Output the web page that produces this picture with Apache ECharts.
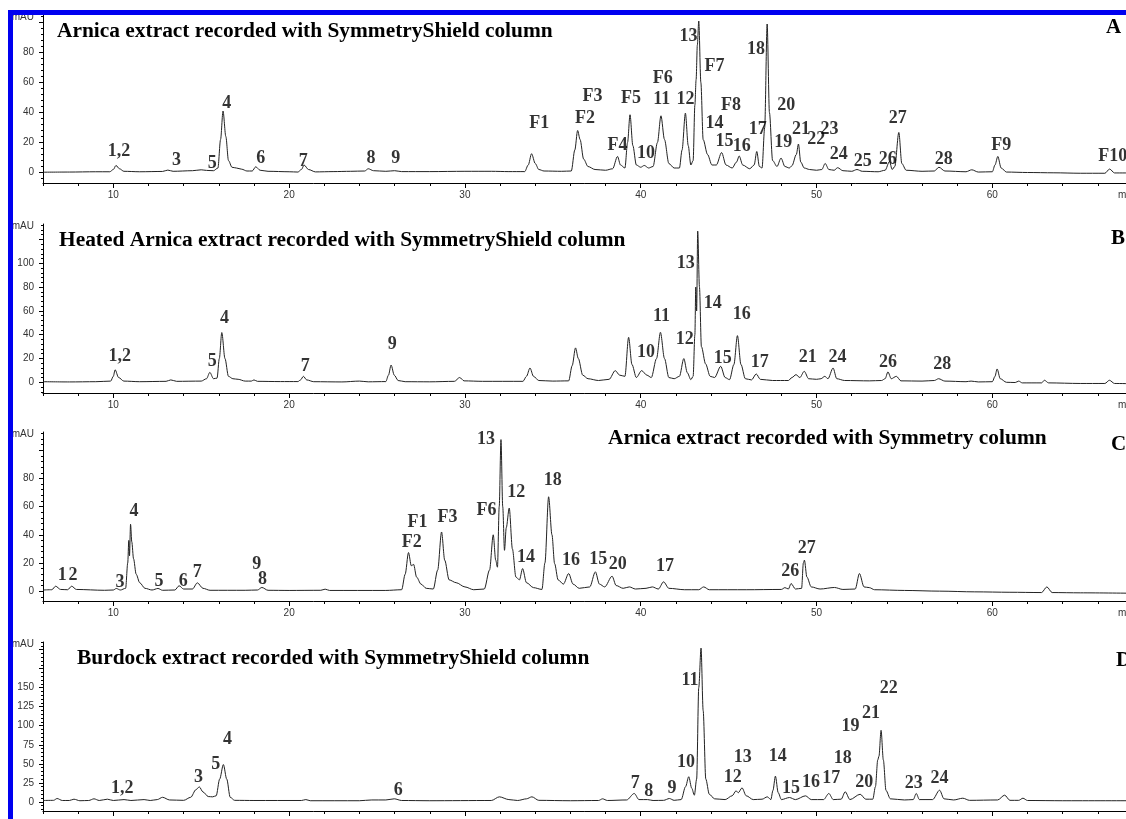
<!DOCTYPE html>
<html lang="en">
<head>
<meta charset="UTF-8">
<title>Chromatograms</title>
<style>
html, body { margin: 0; padding: 0; background: #fff; }
#chart { width: 1126px; height: 819px; }
</style>
</head>
<body>
<div id="chart"></div>
<script src="https://cdn.jsdelivr.net/npm/echarts@6/dist/echarts.min.js"></script>
<script>
// ---- data: [time (min), absorbance (mAU)] ----
var traceA = [[6,0.2],[7.5,0.3],[9,0.5],[9.8,0.5],[10,2],[10.15,4.7],[10.35,2.5],[10.6,0.8],[11.5,0.5],[12.8,0.7],[13.1,1.6],[13.4,0.8],[14.5,1.2],[15,1.8],[15.3,1.4],[15.7,1.2],[15.95,3],[16.1,22],[16.24,41],[16.4,24],[16.55,8],[16.75,3.5],[17,3],[17.3,2.2],[17.6,1],[17.9,1],[18.1,3.8],[18.35,1.5],[18.8,0.8],[20,0.5],[20.5,0.3],[20.7,2],[20.85,5],[21.1,2],[21.5,0.4],[22.5,0.6],[23.5,0.8],[24.3,1],[24.5,2.5],[24.8,1.2],[25.5,0.8],[26,1.2],[26.4,0.6],[28,0.6],[30,0.8],[31.5,0.8],[32.5,0.6],[33.4,0.6],[33.6,5],[33.79,12.5],[34,6],[34.2,2],[34.5,1],[35.5,0.8],[36.05,1],[36.25,15],[36.41,28],[36.55,22],[36.75,9],[37,4],[37.4,2],[38,1.5],[38.4,2.5],[38.68,10.7],[38.85,5],[39.1,3],[39.25,20],[39.39,38.5],[39.55,18],[39.75,5],[40,3.5],[40.2,4.7],[40.45,3],[40.7,4],[40.95,20],[41.15,37.8],[41.35,22],[41.6,6],[41.9,3],[42.2,3],[42.35,15],[42.54,39.6],[42.7,18],[42.85,5],[42.98,8],[43.08,45],[43.15,62],[43.22,85],[43.3,101],[43.42,60],[43.55,22],[43.8,12],[44.05,5],[44.3,5],[44.6,13.3],[44.85,5],[45.2,3],[45.45,7],[45.6,11],[45.8,5],[46.2,2.5],[46.45,5],[46.6,14],[46.75,4],[46.9,3],[47.05,30],[47.19,99],[47.32,40],[47.5,8],[47.75,4],[47.98,9.6],[48.2,4],[48.45,3],[48.6,4.5],[48.85,12],[48.97,19],[49.1,7],[49.3,3],[49.6,2],[50,1.5],[50.3,2],[50.49,6],[50.7,2],[51,1.5],[51.2,3.2],[51.5,1.2],[52,0.8],[52.3,2],[52.6,0.8],[53.5,0.5],[53.9,1.5],[54.15,7.4],[54.3,2],[54.45,4],[54.68,26.7],[54.85,6],[55.1,1.5],[56,0.8],[56.7,1],[56.96,3.5],[57.3,1],[58.5,0.5],[58.83,1.8],[59.2,0.3],[60,0.5],[60.15,5],[60.31,10.7],[60.5,3],[60.8,0.3],[62,0],[63.5,-0.2],[65,-0.5],[66.4,-0.5],[66.67,2.3],[66.95,-0.3],[68,-0.3]];

var traceB = [[6,0.5],[7.5,0.3],[9,0.5],[9.85,1],[10,5],[10.1,10.5],[10.3,4],[10.6,1],[11.5,0.5],[13,0.8],[13.27,2],[13.6,0.8],[15,1],[15.3,3],[15.49,8.3],[15.7,3],[15.9,3.5],[16.03,20],[16.17,41.8],[16.35,20],[16.55,5],[16.8,3],[17.1,2.5],[17.5,1],[17.85,1],[18,2],[18.2,0.8],[19.5,0.6],[20.5,0.6],[20.65,2],[20.81,5],[21,2],[21.4,0.5],[23,0.3],[24,1],[24.5,0.4],[25.5,0.6],[25.65,6],[25.8,14.5],[25.98,6],[26.2,1.5],[26.6,0.5],[28,0.4],[29.4,0.8],[29.7,4],[29.95,1.2],[31,0.8],[33.3,0.8],[33.5,5],[33.7,12],[33.9,5],[34.2,1.5],[35,1],[35.9,1.2],[36.1,14],[36.29,28.9],[36.45,20],[36.7,6],[37,3],[37.6,1.5],[38.2,2.5],[38.55,9.8],[38.8,6],[39.1,5],[39.31,37.8],[39.5,15],[39.75,4],[40.05,9.8],[40.35,6],[40.6,4],[40.9,20],[41.12,42],[41.35,20],[41.6,4],[41.9,3],[42.2,5],[42.45,19.9],[42.65,8],[42.85,2.2],[42.98,5],[43.08,40],[43.13,80],[43.18,60],[43.24,127],[43.34,80],[43.45,30],[43.69,15.4],[43.95,5],[44.2,4],[44.55,13.4],[44.8,4],[45.05,2.2],[45.3,15],[45.5,39.2],[45.7,15],[45.95,3],[46.3,2],[46.57,7],[46.8,2.5],[47.5,1.5],[48.4,1.5],[48.6,4],[48.83,6.4],[49.05,4],[49.3,9.2],[49.55,3],[50,2.5],[50.25,3],[50.47,5],[50.65,3],[50.94,12],[51.15,3],[51.6,1.5],[53,1.2],[53.7,1.5],[53.9,3],[54.06,8.7],[54.25,3],[54.54,5],[54.8,1.2],[56,1],[56.7,1.5],[56.94,3],[57.3,1],[58.5,0.5],[58.79,1],[59.2,0.3],[60,0.5],[60.15,5],[60.27,11.2],[60.45,3],[60.8,0],[61.3,-0.2],[61.5,1],[61.7,-0.5],[62.8,-0.5],[62.96,1.7],[63.2,-0.5],[65,-1],[66.4,-1],[66.66,1.7],[66.95,-1],[68,-1.2]];

var traceC = [[6,0.8],[6.5,1],[6.72,3.5],[7,1.2],[7.4,1],[7.63,3.5],[7.9,1.2],[9.5,0.6],[10,0.8],[10.17,1.9],[10.4,0.8],[10.7,2],[10.82,20],[10.88,36],[10.92,25],[10.98,47.5],[11.05,35],[11.15,23],[11.3,12],[11.5,6],[11.8,2],[12.2,0.8],[12.54,1.9],[12.8,0.6],[13.5,0.8],[13.74,3.8],[14,1.5],[14.5,1.5],[14.78,5.9],[15.1,2],[15.5,0.6],[17.5,0.6],[18.2,0.8],[18.45,2.6],[18.8,0.6],[20,0.5],[21.8,0.6],[22.05,1.4],[22.3,0.5],[25.5,0.5],[26.4,1],[26.6,12],[26.79,27.4],[26.95,18],[27.08,19],[27.25,10],[27.5,5],[27.8,2],[28.2,1.5],[28.45,15],[28.67,42],[28.85,22],[29.1,8],[29.5,6],[30,3],[30.5,1],[31.1,1.5],[31.4,15],[31.61,40],[31.75,22],[31.85,17],[31.95,60],[32.05,107.6],[32.15,60],[32.25,29],[32.35,45],[32.52,59],[32.7,30],[32.9,10],[33.1,8],[33.28,16],[33.5,6],[33.9,2.5],[34.38,1.2],[34.55,20],[34.76,67],[34.95,40],[35.1,19.6],[35.3,8],[35.6,5],[35.9,12.5],[36.15,5],[36.5,2],[37.1,3],[37.42,13.7],[37.65,5],[37.95,3],[38.37,10.6],[38.6,4],[39,2],[39.35,3],[39.7,1.5],[40.3,2],[40.66,3],[41,1.5],[41.3,6.6],[41.6,2],[42.5,1],[43.3,1],[43.58,3],[43.9,1],[46,1],[48,1.2],[48.2,2.5],[48.4,1.5],[48.55,5.4],[48.8,1.5],[49.15,2],[49.25,20],[49.31,22],[49.45,10],[49.7,3],[50.2,1.5],[51.02,2.6],[51.5,1.2],[52.2,1.5],[52.44,12.5],[52.7,3],[53,2.5],[53.3,1],[55,0.5],[57,0],[59,-0.5],[61,-0.8],[62.8,-1],[63.1,3],[63.4,-1],[65,-1.2],[68,-1.5]];

var traceD = [[6,1.8],[6.6,2],[6.8,4.4],[7.1,1.8],[7.5,1.8],[7.76,3.5],[8.1,1.5],[8.6,1.8],[8.9,4],[9.2,1.8],[9.66,3.5],[10,1.8],[10.61,3],[11,1.8],[11.75,3],[12.1,1.8],[12.5,3],[12.8,6],[13.2,2.5],[14,2],[14.4,6],[14.7,16],[14.89,19.7],[15.1,13],[15.4,7],[15.65,6.6],[15.85,8],[16.05,30],[16.26,49],[16.45,30],[16.65,6],[16.9,2],[18,1.8],[20.7,1.8],[20.95,3],[21.2,1.5],[24,1.5],[24.7,2.5],[25.5,2.5],[25.98,4],[26.4,1.8],[28,1.5],[31.5,1.8],[31.96,6.6],[32.5,3],[33,1.8],[33.5,4],[33.81,6.6],[34.2,2],[36,1.5],[37.6,1.8],[37.83,4],[38.1,1.8],[39.2,2.5],[39.63,11],[39.9,3],[40.39,3],[40.7,1.8],[41.3,2],[41.63,4.4],[41.9,2],[42.3,3],[42.55,20],[42.73,33],[42.9,18],[43.05,8.8],[43.18,30],[43.3,150],[43.43,202],[43.55,120],[43.7,30],[43.9,10],[44.2,4],[44.8,3],[45.2,8],[45.42,14.5],[45.55,12],[45.76,18.4],[46,8],[46.4,3],[46.9,3.5],[47.2,6.6],[47.4,3],[47.52,15],[47.66,33.8],[47.82,12],[48,3],[48.46,5.7],[48.8,3],[49.37,7.9],[49.7,3],[50.4,3],[50.7,11],[50.95,3],[51.4,3.5],[51.63,13.2],[51.9,3],[52.48,10],[52.8,3.5],[53.2,3.5],[53.35,20],[53.48,55],[53.55,60],[53.67,94],[53.8,55],[53.95,15],[54.2,4],[55,2.5],[55.5,3],[55.67,11],[55.85,3],[56.6,3],[57,15.3],[57.25,4],[57.8,2.5],[58.32,4.8],[58.7,2],[60.3,2.5],[60.7,8.8],[61,2],[61.5,2],[61.74,4.8],[62,1.8],[64,1.5],[68,1.5]];

// peak annotations: [text, time, mAU]
var labelsA = [['1,2',10.33,14],['3',13.6,7.8],['5',15.63,6.3],['4',16.45,46],['6',18.39,9.6],['7',20.81,7.3],['8',24.65,9.6],['9',26.07,9.6],['F1',34.23,33],['F2',36.83,36],['F3',37.26,51],['F4',38.68,18],['F5',39.45,49.6],['10',40.3,13],['F6',41.25,62.5],['11',41.19,48.5],['12',42.54,49],['13',42.71,91],['F7',44.19,70.7],['14',44.2,33],['F8',45.14,45],['15',44.76,20.7],['16',45.74,17.3],['17',46.65,28.5],['18',46.56,81.8],['19',48.11,20],['20',48.27,45],['21',49.12,29],['22',49.98,21.8],['23',50.73,29],['24',51.26,11.8],['25',52.63,7.3],['26',54.05,8.5],['27',54.62,36],['28',57.24,8.5],['F9',60.51,18],['F10',66.85,10.7]];
var labelsB = [['1,2',10.36,21.7],['5',15.63,17.5],['4',16.32,54],['7',20.92,13],['9',25.86,32],['10',40.3,25],['11',41.18,55.3],['12',42.51,36.3],['13',42.56,100],['14',44.1,66.5],['15',44.66,20.3],['16',45.74,56.7],['17',46.77,16.6],['21',49.5,20.8],['24',51.19,20.8],['26',54.06,16.6],['28',57.15,14.7]];
var labelsC = [['1',7.1,10.9],['2',7.71,10.9],['3',10.38,6.6],['4',11.18,56.7],['5',12.6,7.1],['6',13.98,7.1],['7',14.78,13.7],['9',18.16,18.9],['8',18.48,8.5],['F2',26.98,35],['F1',27.3,49],['F3',29.01,52.7],['F6',31.23,57.4],['13',31.2,108],['12',32.92,70.2],['14',33.47,24.3],['18',34.99,78.7],['16',36.03,22],['15',37.59,22.5],['20',38.69,18.9],['17',41.38,17.7],['26',48.51,14.4],['27',49.44,30.3]];
var labelsD = [['1,2',10.51,17.6],['3',14.84,31.6],['5',15.83,49.2],['4',16.49,82],['6',26.2,14.5],['7',39.69,24.2],['8',40.45,14],['9',41.78,17.6],['10',42.58,51.3],['11',42.8,160],['12',45.23,31.6],['13',45.8,59],['14',47.79,60],['15',48.55,17.6],['16',49.69,25],['17',50.83,30.8],['18',51.49,57],['19',51.93,98.7],['20',52.72,25],['21',53.1,116],['22',54.11,149],['23',55.53,24.2],['24',57,30.8]];

// axis ranges and tick labels
var xRange = [6, 68];
var xTickLabels = [10, 20, 30, 40, 50, 60];
var yRanges = [[-7, 105], [-9, 133], [-7, 113], [-12, 210]];
var yTickLabels = [[0, 20, 40, 60, 80], [0, 20, 40, 60, 80, 100], [0, 20, 40, 60, 80], [0, 25, 50, 75, 100, 125, 150]];
var yMajorTicks = [[0, 20, 40, 60, 80, 100], [0, 20, 40, 60, 80, 100, 120], [0, 20, 40, 60, 80, 100], [0, 25, 50, 75, 100, 125, 150, 175, 200]];
var yMinorSteps = [4, 4, 4, 5];

var titles = ['Arnica extract recorded with SymmetryShield column',
	'Heated Arnica extract recorded with SymmetryShield column',
	'Arnica extract recorded with Symmetry column',
	'Burdock extract recorded with SymmetryShield column'];
var letters = ['A', 'B', 'C', 'D'];

// layout (pixels)
var gridTops = [15, 224, 432, 642];
var gridHeights = [168, 169, 169, 169];
var titlePos = [[57, 33], [59, 242], [608, 440], [77, 660]];
var letterPos = [[1106, 29], [1111, 240], [1111, 446], [1116, 662]];

var traces = [traceA, traceB, traceC, traceD];
var peakLabels = [labelsA, labelsB, labelsC, labelsD];

function minorTicks(lo, hi, step, skip) {
	var out = [];
	var start = Math.ceil(lo / step) * step;
	for (var v = start; v <= hi; v += step) {
		if (v % skip !== 0) out.push(v);
	}
	return out;
}

var chart = echarts.init(document.getElementById('chart'));
var grids = [], xAxes = [], yAxes = [], series = [], graphics = [];
var tickFont = {fontSize: 10, color: '#333', fontFamily: 'Liberation Sans'};
var black = {color: '#000', width: 1};

for (var i = 0; i < 4; i++) {
	// the bottom panel is cut off just under its axis line
	var lastPanel = (i === 3);

	// fixed pixel grid, allowed to run past the right edge of the canvas
	grids.push({left: 43, top: gridTops[i], width: 1090, height: gridHeights[i],
		containLabel: false, outerBoundsMode: 'none'});

	// main x axis with labelled ticks
	xAxes.push({
		type: 'value', gridIndex: i, min: xRange[0], max: xRange[1], position: 'bottom',
		axisLine: {onZero: false, lineStyle: black},
		axisTick: {customValues: xTickLabels, length: 5, lineStyle: black},
		axisLabel: Object.assign({show: !lastPanel, customValues: xTickLabels, margin: 7}, tickFont),
		splitLine: {show: false}
	});
	// minor x ticks every 2 min
	xAxes.push({
		type: 'value', gridIndex: i, min: xRange[0], max: xRange[1], position: 'bottom',
		axisLine: {show: false, onZero: false},
		axisTick: {customValues: minorTicks(xRange[0], xRange[1], 2, 10), length: 3, lineStyle: black},
		axisLabel: {show: false}, splitLine: {show: false}
	});

	yAxes.push({
		type: 'value', gridIndex: i, min: yRanges[i][0], max: yRanges[i][1], position: 'left',
		axisLine: {show: true, onZero: false, lineStyle: black},
		axisTick: {show: true, customValues: yMajorTicks[i], length: 4, lineStyle: black},
		axisLabel: Object.assign({customValues: yTickLabels[i], margin: 9}, tickFont),
		splitLine: {show: false}
	});
	yAxes.push({
		type: 'value', gridIndex: i, min: yRanges[i][0], max: yRanges[i][1], position: 'left',
		axisLine: {show: false, onZero: false},
		axisTick: {show: true, customValues: minorTicks(yRanges[i][0], yRanges[i][1], yMinorSteps[i], yMinorSteps[i] * 5), length: 2, lineStyle: black},
		axisLabel: {show: false}, splitLine: {show: false}
	});

	series.push({
		type: 'line', xAxisIndex: 2 * i, yAxisIndex: 2 * i,
		data: traces[i], showSymbol: false, symbol: 'none',
		smooth: 0.3, smoothMonotone: 'x',
		lineStyle: {color: '#222', width: 1}
	});
	series.push({
		type: 'scatter', xAxisIndex: 2 * i, yAxisIndex: 2 * i,
		symbolSize: 1, itemStyle: {color: 'rgba(0,0,0,0)'}, z: 5,
		data: peakLabels[i].map(function (p) { return {name: p[0], value: [p[1], p[2]]}; }),
		label: {
			show: true, position: 'inside', formatter: '{b}',
			fontFamily: 'Liberation Serif', fontWeight: 'bold', fontSize: 18, color: '#000'
		}
	});

	graphics.push({
		type: 'text', left: titlePos[i][0], top: titlePos[i][1] - 12,
		style: {text: titles[i], font: 'bold 21.4px "Liberation Serif"', fill: '#000'}
	});
	graphics.push({
		type: 'text', left: letterPos[i][0], top: letterPos[i][1] - 12,
		style: {text: letters[i], font: 'bold 21px "Liberation Serif"', fill: '#000'}
	});
	graphics.push({
		type: 'text', right: 1126 - 34, top: gridTops[i] - 3,
		style: {text: 'mAU', font: '10px "Liberation Sans"', fill: '#333'}
	});
	if (!lastPanel) {
		graphics.push({
			type: 'text', left: 1118, top: gridTops[i] + gridHeights[i] + 7,
			style: {text: 'min', font: '10px "Liberation Sans"', fill: '#333'}
		});
	}
}

// blue frame along the top and left edge
graphics.push({type: 'rect', z: 100, shape: {x: 8, y: 10, width: 1118, height: 5}, style: {fill: '#0000f0'}});
graphics.push({type: 'rect', z: 100, shape: {x: 8, y: 10, width: 5, height: 809}, style: {fill: '#0000f0'}});

chart.setOption({
	animation: false,
	backgroundColor: '#fff',
	grid: grids,
	xAxis: xAxes,
	yAxis: yAxes,
	series: series,
	graphic: graphics
});
</script>
</body>
</html>
